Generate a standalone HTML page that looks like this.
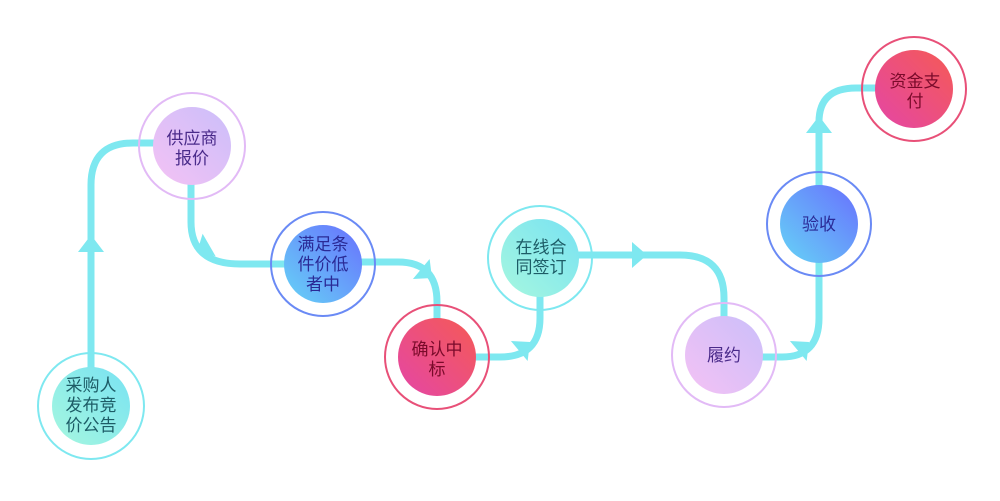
<!DOCTYPE html>
<html><head><meta charset="utf-8"><style>
html,body{margin:0;padding:0;background:#fff;width:1000px;height:501px;overflow:hidden}
svg text{font-family:"Liberation Sans","Noto Sans CJK SC",sans-serif;font-size:17px;text-anchor:middle}
</style></head><body>
<svg width="1000" height="501" viewBox="0 0 1000 501" xmlns="http://www.w3.org/2000/svg">
<defs>
<linearGradient id="gc" x1="0" y1="1" x2="1" y2="0"><stop offset="0" stop-color="#a6f7df"/><stop offset="1" stop-color="#78e2f2"/></linearGradient>
<linearGradient id="gp" x1="0" y1="1" x2="1" y2="0"><stop offset="0" stop-color="#f4c2f4"/><stop offset="1" stop-color="#cbbefa"/></linearGradient>
<linearGradient id="gb" x1="0" y1="1" x2="1" y2="0"><stop offset="0" stop-color="#66d4f6"/><stop offset="1" stop-color="#6870fe"/></linearGradient>
<linearGradient id="gr" x1="0" y1="1" x2="1" y2="0"><stop offset="0" stop-color="#e446a6"/><stop offset="1" stop-color="#f55a55"/></linearGradient>
</defs>
<g fill="none" stroke="#7ee8f0" stroke-width="7">
<path d="M91,380 V185 Q91,143 133,143 H160"/>
<path d="M191,180 V222 Q191,264 240,264 H290"/>
<path d="M358,262 H398 Q437,262 437,302 V322"/>
<path d="M475,357 H500 Q540,357 540,318 V292"/>
<path d="M576,255 H680 Q724,255 724,298 V320"/>
<path d="M760,357 H782 Q819,357 819,318 V262"/>
<path d="M819,188 V122 Q819,88 856,88 H878"/>
</g>
<g fill="#7ee8f0">
<polygon points="91,235 78,252 104,252"/>
<polygon points="819,116 806,133 832,133"/>
<polygon points="647,255 632,242 632,268"/>
<polygon points="0,0 -14,-13 -14,13" transform="translate(197,252) rotate(150)"/>
<polygon points="0,0 -14,-13 -14,13" transform="translate(432,278) rotate(40)"/>
<polygon points="0,0 -14,-13 -14,13" transform="translate(530,342) rotate(-40)"/>
<polygon points="0,0 -14,-13 -14,13" transform="translate(809,342) rotate(-40)"/>
</g>
<g stroke-width="2" fill="none">
<circle cx="91" cy="406" r="53" stroke="#7ee8f0"/>
<circle cx="192" cy="146" r="53" stroke="#e2baf6"/>
<circle cx="323" cy="264" r="52" stroke="#6a8af5"/>
<circle cx="437" cy="357" r="52" stroke="#e85078"/>
<circle cx="540" cy="258" r="52" stroke="#7ee8f0"/>
<circle cx="724" cy="355" r="52" stroke="#e2baf6"/>
<circle cx="819" cy="224" r="52" stroke="#6a8af5"/>
<circle cx="914" cy="89" r="52" stroke="#e85078"/>
</g>
<circle cx="91" cy="406" r="39" fill="url(#gc)"/>
<circle cx="192" cy="146" r="39" fill="url(#gp)"/>
<circle cx="323" cy="264" r="39" fill="url(#gb)"/>
<circle cx="437" cy="357" r="39" fill="url(#gr)"/>
<circle cx="540" cy="258" r="39" fill="url(#gc)"/>
<circle cx="724" cy="355" r="39" fill="url(#gp)"/>
<circle cx="819" cy="224" r="39" fill="url(#gb)"/>
<circle cx="914" cy="89" r="39" fill="url(#gr)"/>
<g fill="#1d5c66"><text x="91" y="391">采购人</text><text x="91" y="411">发布竞</text><text x="91" y="431">价公告</text>
<text x="541" y="253">在线合</text><text x="541" y="273">同签订</text></g>
<g fill="#4a2a8a"><text x="192" y="144">供应商</text><text x="192" y="164">报价</text><text x="724" y="361">履约</text></g>
<g fill="#2a2a96"><text x="323" y="250">满足条</text><text x="323" y="270">件价低</text><text x="323" y="290">者中</text><text x="819" y="230">验收</text></g>
<g fill="#7a0a2a"><text x="437" y="355">确认中</text><text x="437" y="375">标</text><text x="915" y="87">资金支</text><text x="915" y="107">付</text></g>
</svg>
</body></html>
